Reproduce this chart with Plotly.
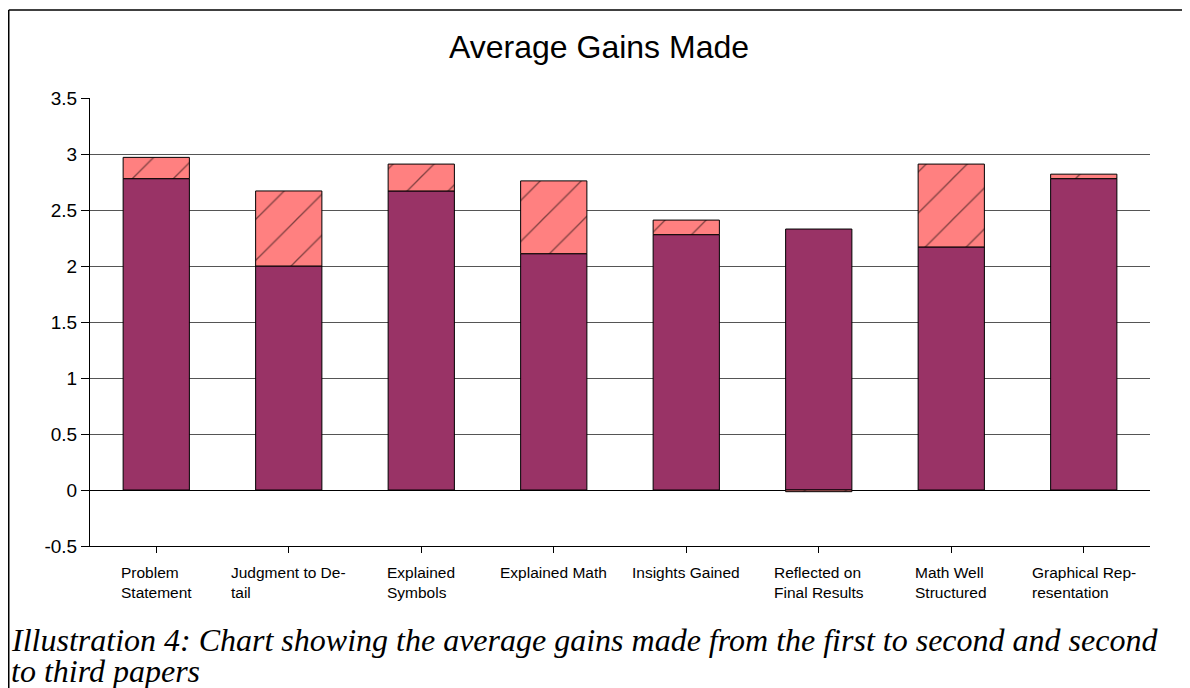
import plotly.graph_objects as go

# data
categories = ["Problem Statement", "Judgment to Detail", "Explained Symbols", "Explained Math",
              "Insights Gained", "Reflected on Final Results", "Math Well Structured",
              "Graphical Representation"]
tick_text = ["Problem<br>Statement", "Judgment to De-<br>tail", "Explained<br>Symbols",
             "Explained Math", "Insights Gained", "Reflected on<br>Final Results",
             "Math Well<br>Structured", "Graphical Rep-<br>resentation"]
first_gain = [2.78, 2.00, 2.67, 2.11, 2.28, 2.33, 2.17, 2.78]
second_gain = [0.19, 0.67, 0.24, 0.65, 0.13, -0.015, 0.74, 0.04]
y_ticks = [-0.5, 0, 0.5, 1, 1.5, 2, 2.5, 3, 3.5]

# the page body has an 8px margin, so the figure itself starts at (8, 8)
W, H = 1182, 680
L, R, T, B = 82, 40, 90, 142
plot_h = H - T - B
plot_w = W - L - R


def py(pix):  # figure pixel row -> paper y
    return (H - B - pix) / plot_h


def px(pix):  # figure pixel column -> paper x
    return (pix - L) / plot_w


fig = go.Figure()
fig.add_trace(go.Bar(x=categories, y=first_gain, name="First to second",
                     marker=dict(color="#993366", line=dict(color="black", width=1)),
                     width=0.5))
fig.add_trace(go.Bar(x=categories, y=second_gain, name="Second to third",
                     marker=dict(color="#FF8080", line=dict(color="black", width=1),
                                 pattern=dict(shape="/", fgcolor="black", bgcolor="#FF8080",
                                              size=29, solidity=0.045)),
                     width=0.5))

# category labels (left aligned lines, centred block)
for cat, txt in zip(categories, tick_text):
    fig.add_annotation(x=cat, xref="x", y=py(554), yref="paper", yanchor="top",
                       xanchor="center", align="left", text=txt, showarrow=False,
                       font=dict(family="Liberation Sans, Arial", size=15.5, color="black"))

# caption
cap_font = dict(family="Liberation Serif, Times New Roman", size=32, color="black")
fig.add_annotation(x=px(1), xref="paper", y=py(632), yref="paper", xanchor="left",
                   yanchor="middle", showarrow=False, font=cap_font,
                   text="<i>Illustration 4: Chart showing the average gains made from the first to second and second</i>")
fig.add_annotation(x=px(1), xref="paper", y=py(663), yref="paper", xanchor="left",
                   yanchor="middle", showarrow=False, font=cap_font,
                   text="<i>to third papers</i>")

# outer frame (top and left edges)
fig.add_shape(type="line", xref="paper", yref="paper", x0=px(0.75), x1=px(W + 5),
              y0=py(2), y1=py(2), line=dict(color="black", width=1.5))
fig.add_shape(type="line", xref="paper", yref="paper", x0=px(0.75), x1=px(0.75),
              y0=py(2), y1=py(H + 5), line=dict(color="black", width=1.5))

fig.update_layout(
    width=W, height=H,
    margin=dict(l=L, r=R, t=T, b=B),
    barmode="relative",
    showlegend=False,
    plot_bgcolor="white", paper_bgcolor="white",
    font=dict(family="Liberation Sans, Arial", color="black"),
    title=dict(text="Average Gains Made", x=0.5, xanchor="center", y=1 - 39 / H,
               yanchor="middle", font=dict(size=32, color="black")),
)
fig.update_xaxes(showticklabels=False, ticks="outside", ticklen=6, tickcolor="black",
                 showline=True, linecolor="black", linewidth=1, showgrid=False)
fig.update_yaxes(range=[-0.5, 3.5], tickvals=y_ticks, ticktext=[f"{v:g}" for v in y_ticks],
                 ticks="outside", ticklen=8, tickcolor="black", showline=True,
                 linecolor="black", linewidth=1, showgrid=True, gridcolor="#555555",
                 gridwidth=1, zeroline=True, zerolinecolor="black", zerolinewidth=1,
                 tickfont=dict(size=19, color="black"), mirror=False)

fig.write_html("out.html")
